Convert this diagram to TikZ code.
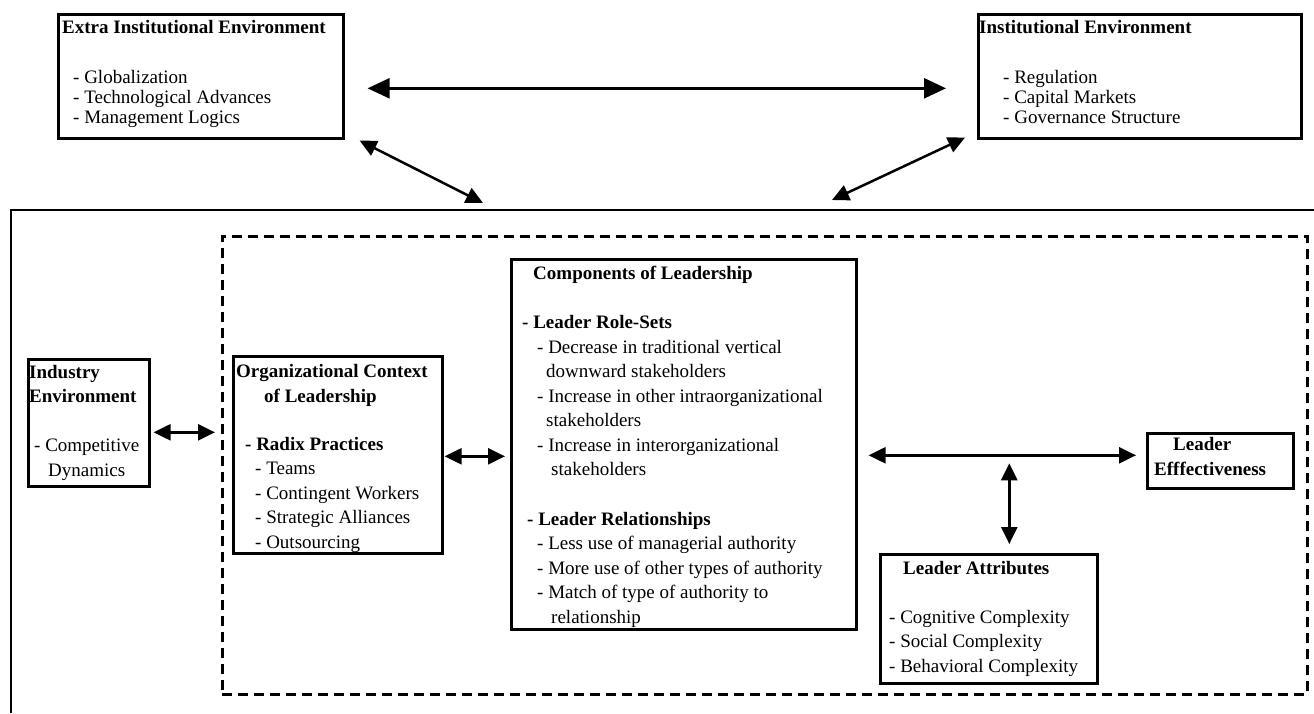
\documentclass[tikz,border=0pt]{standalone}
\usepackage{fontspec}
\setmainfont{Liberation Serif}
\usetikzlibrary{arrows.meta}
\begin{document}
\begin{tikzpicture}[x=1pt,y=-1pt,
  box/.style={draw, line width=2.6pt, inner sep=0pt, anchor=north west},
  dashbox/.style={draw, line width=2.5pt, dash pattern=on 10pt off 6pt, inner sep=0pt, anchor=north west},
  txt/.style={anchor=base west, inner sep=0pt, align=left, font=\fontsize{19}{24.5}\selectfont},
  txttop/.style={anchor=base west, inner sep=0pt, align=left, font=\fontsize{19}{20}\selectfont},
  arr/.style={line width=2.5pt, {Triangle[length=17pt,width=16pt]}-{Triangle[length=17pt,width=16pt]}},
  bigarr/.style={line width=2.5pt, {Triangle[length=22pt,width=20pt]}-{Triangle[length=22pt,width=20pt]}},
  frame/.style={line width=2.2pt}
]
\useasboundingbox (0,0) rectangle (1314,713);

% outer frame (open on the right and bottom)
\coordinate (frameBL) at (11,713);
\coordinate (frameTL) at (11,210);
\coordinate (frameTR) at (1314,210);
\draw[frame] (frameBL) -- (frameTL) -- (frameTR);
\coordinate (topL) at (483,203);
\coordinate (topR) at (832,200);

% boxes
\node[box, minimum width=285pt, minimum height=124pt] (extra) at (57,13) {};
\node[box, minimum width=323pt, minimum height=124pt] (inst) at (977,13) {};
\node[dashbox, minimum width=1085pt, minimum height=458pt] (ctx) at (221,235) {};
\node[box, minimum width=121pt, minimum height=127pt] (ind) at (27,358) {};
\node[box, minimum width=209pt, minimum height=197pt] (org) at (232,355) {};
\node[box, minimum width=345pt, minimum height=370pt] (comp) at (510,258) {};
\node[box, minimum width=146pt, minimum height=55pt] (eff) at (1146,432) {};
\node[box, minimum width=217pt, minimum height=129pt] (attr) at (879,553) {};

% texts (anchored at the baseline of their last line)
\node[txttop] (extraT) at (62,123) {\textbf{Extra Institutional Environment}\\[30pt]\hspace*{11pt}- Globalization\\\hspace*{11pt}- Technological Advances\\\hspace*{11pt}- Management Logics};
\node[txttop] (instT) at (979,123) {\textbf{Institutional Environment}\\[30pt]\hspace*{24pt}- Regulation\\\hspace*{24pt}- Capital Markets\\\hspace*{24pt}- Governance Structure};
\node[txt] (indT) at (29,476) {\textbf{Industry}\\\textbf{Environment}\\[24.5pt]\hspace*{5pt}- Competitive\\\hspace*{19pt}Dynamics};
\node[txt] (orgT) at (236,548) {\textbf{Organizational Context}\\\hspace*{28pt}\textbf{of Leadership}\\[23.5pt]\hspace*{9pt}\textbf{- Radix Practices}\\\hspace*{19pt}- Teams\\\hspace*{19pt}- Contingent Workers\\\hspace*{19pt}- Strategic Alliances\\\hspace*{19pt}- Outsourcing};
\node[txt] (compT) at (522,623) {\hspace*{11pt}\textbf{Components of Leadership}\\[24.5pt]\textbf{- Leader Role-Sets}\\\hspace*{15pt}- Decrease in traditional vertical\\\hspace*{24pt}downward stakeholders\\\hspace*{15pt}- Increase in other intraorganizational\\\hspace*{24pt}stakeholders\\\hspace*{15pt}- Increase in interorganizational\\\hspace*{29pt}stakeholders\\[25pt]\hspace*{5pt}\textbf{- Leader Relationships}\\\hspace*{15pt}- Less use of managerial authority\\\hspace*{15pt}- More use of other types of authority\\\hspace*{15pt}- Match of type of authority to\\\hspace*{29pt}relationship};
\node[txt] (effT) at (1154,475) {\hspace*{19pt}\textbf{Leader}\\\textbf{Efffectiveness}};
\node[txt] (attrT) at (889,672) {\hspace*{14pt}\textbf{Leader Attributes}\\[24.5pt]- Cognitive Complexity\\- Social Complexity\\- Behavioral Complexity};

% connectors
\coordinate (attrTop) at ([xshift=20.5pt]attr.north);
\coordinate (hJ) at ([yshift=5.5pt]eff.west -| attrTop);
\draw[bigarr, shorten <=23pt, shorten >=31pt] ([yshift=-12pt]extra.east) -- ([yshift=-12pt]inst.west);
\draw[arr] ([shift={(15pt,-1pt)}]extra.south east) -- (topL);
\draw[arr] ([shift={(-12pt,2pt)}]inst.south west) -- (topR);
\draw[arr, shorten <=3pt, shorten >=17pt] ([yshift=-9.5pt]ind.east) -- ([yshift=-9.5pt]ind.east -| org.west);
\draw[arr, shorten <=1pt, shorten >=5pt] ([yshift=-1.5pt]org.east) -- ([yshift=-1.5pt]org.east -| comp.west);
\draw[arr, shorten <=11pt, shorten >=10pt] ([yshift=5.5pt]eff.west -| comp.east) -- ([yshift=5.5pt]eff.west);
\draw[arr, shorten <=8pt, shorten >=9pt] (hJ) -- (attrTop);
\end{tikzpicture}
\end{document}
